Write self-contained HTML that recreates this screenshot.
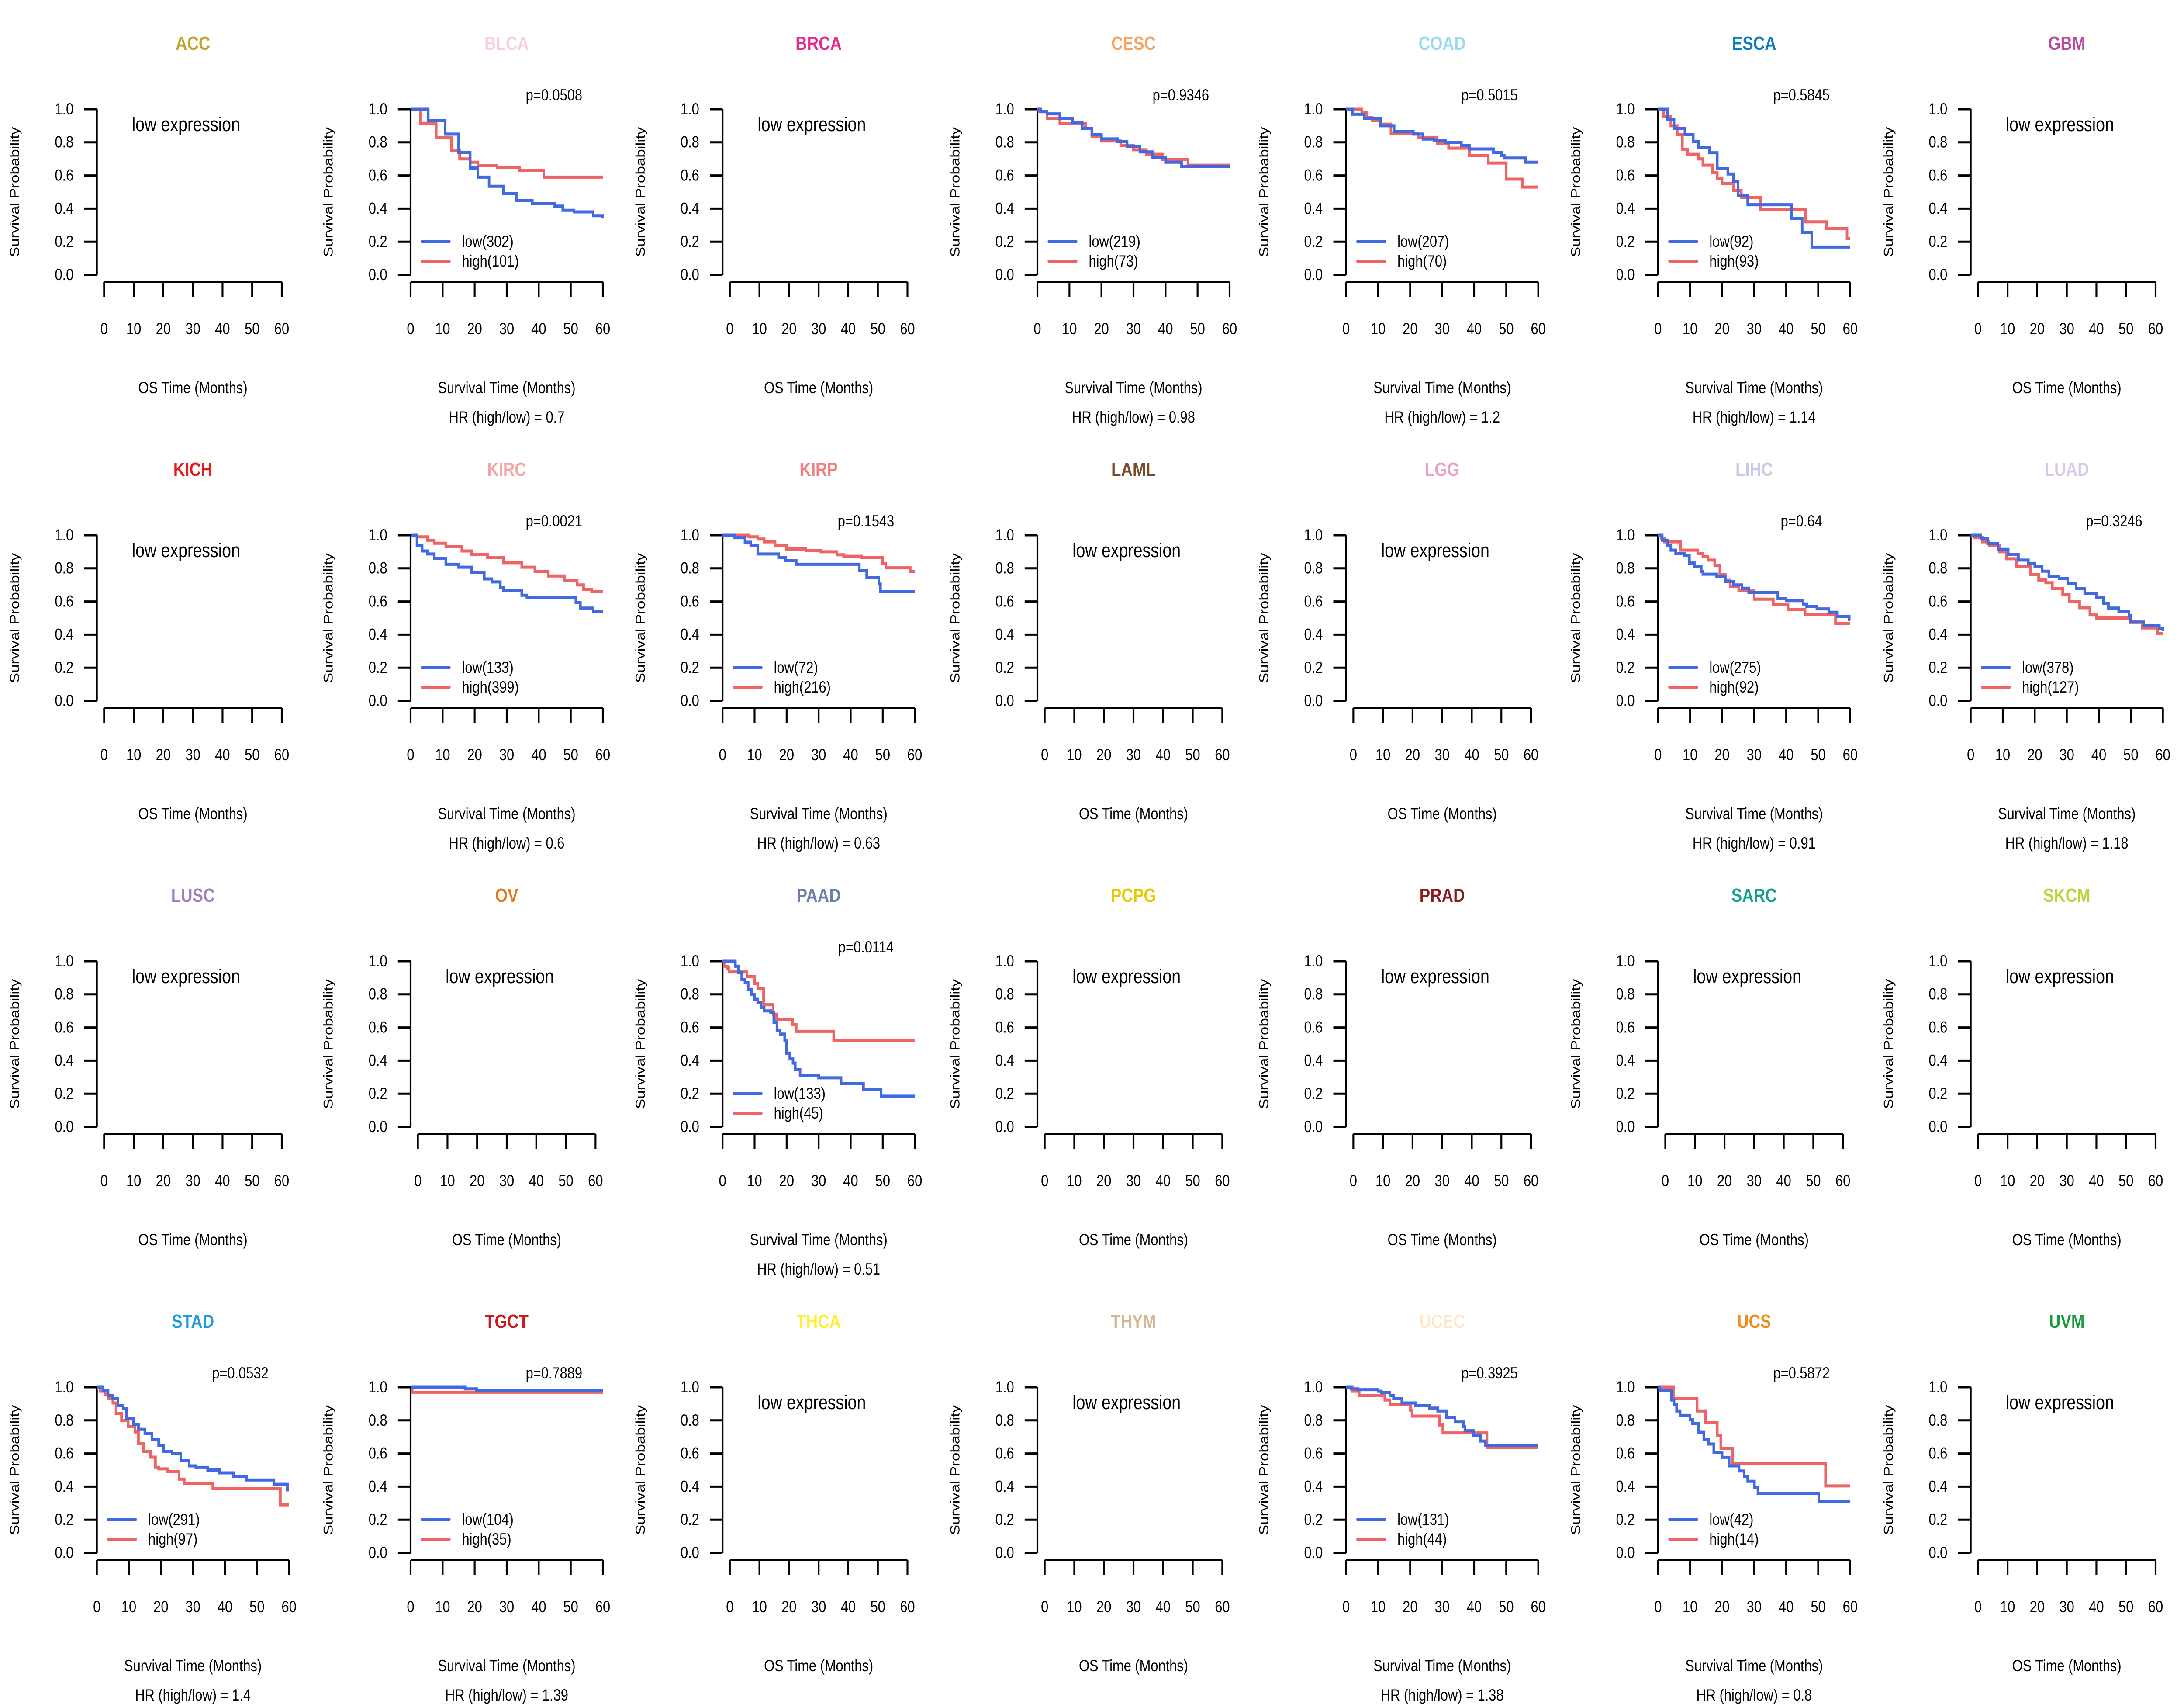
<!DOCTYPE html>
<html><head><meta charset="utf-8"><style>
html,body{margin:0;padding:0;background:#fff;width:100%;height:100%;overflow:hidden;}
svg{display:block;width:100vw;height:100vh;font-family:"Liberation Sans",Arial,sans-serif;}
</style></head><body>
<svg id="chart" xmlns="http://www.w3.org/2000/svg" viewBox="0 0 6000 3900" preserveAspectRatio="none"></svg>
<script>
// ---- data ----
const cancers = ["ACC","BLCA","BRCA","CESC","COAD","ESCA","GBM","KICH","KIRC","KIRP","LAML","LGG","LIHC","LUAD","LUSC","OV","PAAD","PCPG","PRAD","SARC","SKCM","STAD","TGCT","THCA","THYM","UCEC","UCS","UVM"];
const titleColors = ["#C2A32E","#F7D0DA","#E7298A","#F4A460","#9ED8F0","#0A7EBD","#B84DA0","#E41A1C","#F4A6A6","#F08080","#7B4A2A","#E8A0C8","#C8C8E8","#D8C8E8","#9E7FBF","#E07B1A","#6B7FA8","#E8C800","#8B1A1A","#1AA088","#BBD63A","#1E9CE0","#CC1A1A","#FFEE33","#D4B896","#FFE8C8","#F08C1A","#1A9A3A"];
const xTicks = [0,10,20,30,40,50,60];
const yTicks = ["0.0","0.2","0.4","0.6","0.8","1.0"];

const blcaLowT=[5.5,10.8,15,18.6,21,24.5,29,33,38,45,47.5,51,57,60];
const blcaLowS=[0.93,0.85,0.74,0.645,0.59,0.535,0.49,0.45,0.43,0.415,0.39,0.38,0.357,0.34];
const blcaHighT=[3,8,12.7,15.3,18.6,21,27,34,41.6];
const blcaHighS=[0.915,0.83,0.75,0.70,0.68,0.66,0.65,0.63,0.59];

const cescLowT=[1,3,7,11,14,17,20,25,28,32,36,40,45];
const cescLowS=[0.985,0.972,0.945,0.919,0.883,0.848,0.821,0.804,0.777,0.742,0.706,0.68,0.653];
const cescHighT=[0.5,3,7,15,17,20,26,30,34,39,47];
const cescHighS=[0.985,0.945,0.914,0.883,0.835,0.808,0.78,0.755,0.728,0.697,0.662];

const coadLowT=[2,5.7,10.8,15,21,24,27.5,31,36,38.5,46,48.5,49.4,56];
const coadLowS=[0.97,0.945,0.90,0.865,0.85,0.82,0.81,0.80,0.78,0.76,0.74,0.72,0.705,0.68];
const coadHighT=[4.9,6.5,8.2,10.8,14,22.5,28.4,32,38.5,44.4,50,55];
const coadHighS=[0.98,0.95,0.93,0.91,0.855,0.83,0.795,0.765,0.72,0.675,0.578,0.53];

const escaLowT=[3,5,8.4,11,12.6,16,18.5,21.8,23.5,25,28,41.7,45,48];
const escaLowS=[0.936,0.883,0.848,0.804,0.768,0.737,0.64,0.609,0.565,0.48,0.423,0.339,0.255,0.168];
const escaHighT=[1.7,4,6,7.6,9.2,12.6,14,17,18.5,20,23.5,26,32,46,52.6,59];
const escaHighS=[0.954,0.9,0.848,0.759,0.728,0.70,0.662,0.618,0.582,0.55,0.51,0.467,0.392,0.32,0.28,0.22];

const kircLowT=[2,3.6,5.2,7.4,11,15,19,23,25.4,28,29,34.7,36.3,51.6,53,57];
const kircLowS=[0.94,0.905,0.887,0.86,0.825,0.807,0.776,0.736,0.718,0.683,0.665,0.638,0.626,0.595,0.56,0.542];
const kircHighT=[2,5.2,7.4,11,16,19,24,29,34.7,38.8,43,48,52,54,56.5];
const kircHighS=[0.99,0.97,0.952,0.93,0.905,0.883,0.865,0.834,0.807,0.78,0.754,0.727,0.70,0.673,0.66];

const kirpLowT=[3.8,7,8.8,11,17.5,19.7,23,42.7,45,48.8,49.3];
const kirpLowS=[0.985,0.958,0.936,0.887,0.865,0.847,0.825,0.785,0.745,0.705,0.66];
const kirpHighT=[8.2,11,13,16.4,20,26,30.7,35.7,37.8,43.4,50,51,58.6];
const kirpHighS=[0.99,0.977,0.96,0.94,0.917,0.908,0.90,0.882,0.873,0.865,0.83,0.803,0.78];

const lihcLowT=[1.3,2.9,4,5.5,8.2,9.8,11.4,13.5,14,18.3,21,23.6,26.2,28.3,37.4,40,45.3,46.4,49.6,53.3,56,59.7];
const lihcLowS=[0.97,0.94,0.91,0.89,0.877,0.832,0.81,0.78,0.765,0.75,0.72,0.70,0.68,0.653,0.618,0.605,0.585,0.57,0.555,0.535,0.51,0.49];
const lihcHighT=[1,2,7.1,12.4,14,15.6,17.7,19.3,21,22.5,25.2,30,36,40.6,45.9,55.4];
const lihcHighS=[0.98,0.96,0.91,0.89,0.87,0.85,0.817,0.764,0.728,0.69,0.667,0.614,0.582,0.55,0.52,0.467];

const luadLowT=[3.2,5.3,8.5,11.7,14.9,18,20,22.3,24.4,27.6,30.3,32.9,35.6,39.3,41.4,43,46.2,49.4,49.9,54,58.9,60];
const luadLowS=[0.98,0.95,0.915,0.883,0.85,0.83,0.81,0.783,0.752,0.738,0.708,0.677,0.65,0.624,0.588,0.56,0.538,0.516,0.476,0.455,0.437,0.42];
const luadHighT=[1,3.7,5.8,9,11.1,14.3,18.6,21.2,23.4,25.5,28.7,30.8,34,37.2,39.3,49.9,53.6,58.4];
const luadHighS=[0.985,0.96,0.938,0.90,0.858,0.81,0.762,0.73,0.713,0.677,0.642,0.598,0.562,0.518,0.50,0.474,0.44,0.405];

const paadLowT=[4,5,6,7,8,9,10,11,12,13,15,16,17,18,19.4,19.9,21,22,22.7,24.2,30,37,44,49.5];
const paadLowS=[0.97,0.93,0.89,0.87,0.83,0.80,0.77,0.75,0.72,0.70,0.69,0.63,0.58,0.56,0.52,0.445,0.41,0.385,0.345,0.31,0.296,0.26,0.224,0.185];
const paadHighT=[0.5,1.5,2,7.6,10,11,12.8,15.8,16.8,21.9,23,34.7];
const paadHighS=[0.97,0.958,0.935,0.908,0.864,0.837,0.737,0.68,0.65,0.616,0.577,0.522];

const stadLowT=[1.9,3.5,5,6.6,8.2,9.3,11.4,13,15,17.2,19.3,20.9,23.5,26.2,28.8,30.9,34.6,38.3,42.6,46.8,55.3,59.5];
const stadLowS=[0.98,0.95,0.93,0.89,0.87,0.81,0.777,0.746,0.72,0.684,0.649,0.613,0.60,0.556,0.525,0.516,0.50,0.483,0.463,0.44,0.414,0.38];
const stadHighT=[1,2.6,3.5,5,6,7.7,9.8,11.9,13,14.6,16.7,18.3,19.3,22,25.7,27.3,36.2,57.3];
const stadHighS=[0.976,0.958,0.93,0.905,0.843,0.80,0.764,0.73,0.66,0.613,0.578,0.516,0.507,0.49,0.445,0.42,0.388,0.29];

const tgctLowT=[17,20.6];
const tgctLowS=[0.99,0.98];
const tgctHighT=[0.5];
const tgctHighS=[0.97];

const ucecLowT=[1.5,3.6,10,11,13.7,14.8,17.4,21.7,26,28.6,31.3,34,36.6,37.1,39.8,42,43.5];
const ucecLowS=[0.99,0.985,0.976,0.967,0.95,0.93,0.905,0.89,0.874,0.857,0.817,0.79,0.764,0.737,0.706,0.675,0.65];
const ucecHighT=[2,4.1,12.1,13.7,20.1,20.6,29.2,30.2,44];
const ucecHighS=[0.976,0.95,0.923,0.896,0.86,0.826,0.772,0.724,0.635];

const ucsLowT=[0.5,4.2,5,5.8,6.9,10,10.8,12.7,14.3,15.8,17.4,20,22.2,25.3,26.9,28,30.1,31.2,50.2];
const ucsLowS=[0.978,0.923,0.896,0.857,0.83,0.803,0.78,0.728,0.683,0.657,0.608,0.577,0.525,0.494,0.463,0.432,0.396,0.36,0.312];
const ucsHighT=[4.8,12.2,14.8,18.5,19.6,23.3,52.3];
const ucsHighS=[0.932,0.857,0.786,0.71,0.63,0.537,0.404];

const panelData = {
  BLCA:{lowT:blcaLowT,lowS:blcaLowS,highT:blcaHighT,highS:blcaHighS,nLow:302,nHigh:101,p:"0.0508",hr:"0.7"},
  CESC:{lowT:cescLowT,lowS:cescLowS,highT:cescHighT,highS:cescHighS,nLow:219,nHigh:73,p:"0.9346",hr:"0.98"},
  COAD:{lowT:coadLowT,lowS:coadLowS,highT:coadHighT,highS:coadHighS,nLow:207,nHigh:70,p:"0.5015",hr:"1.2"},
  ESCA:{lowT:escaLowT,lowS:escaLowS,highT:escaHighT,highS:escaHighS,nLow:92,nHigh:93,p:"0.5845",hr:"1.14"},
  KIRC:{lowT:kircLowT,lowS:kircLowS,highT:kircHighT,highS:kircHighS,nLow:133,nHigh:399,p:"0.0021",hr:"0.6"},
  KIRP:{lowT:kirpLowT,lowS:kirpLowS,highT:kirpHighT,highS:kirpHighS,nLow:72,nHigh:216,p:"0.1543",hr:"0.63"},
  LIHC:{lowT:lihcLowT,lowS:lihcLowS,highT:lihcHighT,highS:lihcHighS,nLow:275,nHigh:92,p:"0.64",hr:"0.91"},
  LUAD:{lowT:luadLowT,lowS:luadLowS,highT:luadHighT,highS:luadHighS,nLow:378,nHigh:127,p:"0.3246",hr:"1.18"},
  PAAD:{lowT:paadLowT,lowS:paadLowS,highT:paadHighT,highS:paadHighS,nLow:133,nHigh:45,p:"0.0114",hr:"0.51"},
  STAD:{lowT:stadLowT,lowS:stadLowS,highT:stadHighT,highS:stadHighS,nLow:291,nHigh:97,p:"0.0532",hr:"1.4"},
  TGCT:{lowT:tgctLowT,lowS:tgctLowS,highT:tgctHighT,highS:tgctHighS,nLow:104,nHigh:35,p:"0.7889",hr:"1.39"},
  UCEC:{lowT:ucecLowT,lowS:ucecLowS,highT:ucecHighT,highS:ucecHighS,nLow:131,nHigh:44,p:"0.3925",hr:"1.38"},
  UCS:{lowT:ucsLowT,lowS:ucsLowS,highT:ucsHighT,highS:ucsHighS,nLow:42,nHigh:14,p:"0.5872",hr:"0.8"}
};

// ---- layout ----
const NS="http://www.w3.org/2000/svg";
const svg=document.getElementById('chart');
const colX=[266,1128,1985,2850,3698,4555,5414];
const rowPitch=975;
const FS=37;
const BLUE="#4169E1", RED="#EE6363";

function mk(tag,attrs,parent){const e=document.createElementNS(NS,tag);for(const k in attrs)e.setAttribute(k,attrs[k]);(parent||svg).appendChild(e);return e;}
function txt(s,attrs,parent){const e=mk('text',attrs,parent);e.textContent=s;return e;}

cancers.forEach((name,i)=>{
  const col=i%7,row=Math.floor(i/7);
  const ax=colX[col], oy=row*rowPitch;
  const y1=250+oy, y0=629+oy;
  const d=panelData[name];
  const x0=d?ax:ax+20, x60=d?ax+528:ax+508;
  const sx=t=>x0+(x60-x0)*t/60;
  const sy=s=>y0-(y0-y1)*s;
  const g=mk('g',{});
  
  
  const title=txt(name,{x:ax+264,y:99+oy,'text-anchor':'middle','dominant-baseline':'central','font-size':44,'font-weight':'bold',fill:titleColors[i]},g);
  
  
  const yax=mk('line',{x1:ax,y1:y1,x2:ax,y2:y0,stroke:'#000','stroke-width':5},g);
  
  
  yTicks.forEach((lab,k)=>{
    const v=parseFloat(lab), y=sy(v);
    mk('line',{x1:ax-35,y1:y,x2:ax,y2:y,stroke:'#000','stroke-width':5},g);
    const t=txt(lab,{x:ax-64,y:y,'text-anchor':'end','dominant-baseline':'central','font-size':FS},g);
    
    
  });
  const yt=txt('Survival Probability',{x:0,y:0,transform:`translate(${ax-226},${(y0+y1)/2}) rotate(-90)`,'text-anchor':'middle','dominant-baseline':'central','font-size':35},g);
  
  
  const xa=645+oy;
  const xax=mk('line',{x1:x0,y1:xa,x2:x60,y2:xa,stroke:'#000','stroke-width':6},g);
  
  
  xTicks.forEach(v=>{
    mk('line',{x1:sx(v),y1:xa,x2:sx(v),y2:xa+35,stroke:'#000','stroke-width':5},g);
    const t=txt(String(v),{x:sx(v),y:753+oy,'text-anchor':'middle','dominant-baseline':'central','font-size':FS},g);
    
    
  });
  const xt=txt(d?'Survival Time (Months)':'OS Time (Months)',{x:ax+264,y:888+oy,'text-anchor':'middle','dominant-baseline':'central','font-size':FS},g);
  
  
  if(!d){
    const le=txt('low expression',{x:ax+245,y:285+oy,'text-anchor':'middle','dominant-baseline':'central','font-size':45},g);
    
    
    return;
  }
  const step=(T,S)=>{let p=`M${sx(0)},${sy(1)}`;for(let k=0;k<T.length;k++){p+=` H${sx(T[k])} V${sy(S[k])}`;}p+=` H${sx(60)}`;return p;};
  const hi=mk('path',{d:step(d.highT,d.highS),fill:'none',stroke:RED,'stroke-width':7},g);
  
  
  const lo=mk('path',{d:step(d.lowT,d.lowS),fill:'none',stroke:BLUE,'stroke-width':7},g);
  
  
  const pv=txt('p='+d.p,{x:ax+394,y:218+oy,'text-anchor':'middle','dominant-baseline':'central','font-size':FS},g);
  
  
  [[BLUE,`low(${d.nLow})`,553],[RED,`high(${d.nHigh})`,598]].forEach(([c,lab,ly])=>{
    const lg=mk('g',{},g);
    
    
    mk('line',{x1:ax+32,y1:ly+oy,x2:ax+106,y2:ly+oy,stroke:c,'stroke-width':8,'stroke-linecap':'round'},lg);
    txt(lab,{x:ax+141,y:ly+oy,'dominant-baseline':'central','font-size':FS},lg);
  });
  const hr=txt('HR (high/low) =  '+d.hr,{x:ax+264,y:955+oy,'text-anchor':'middle','dominant-baseline':'central','font-size':FS,'xml:space':'preserve'},g);
  
  
});
</script>
</body></html>
